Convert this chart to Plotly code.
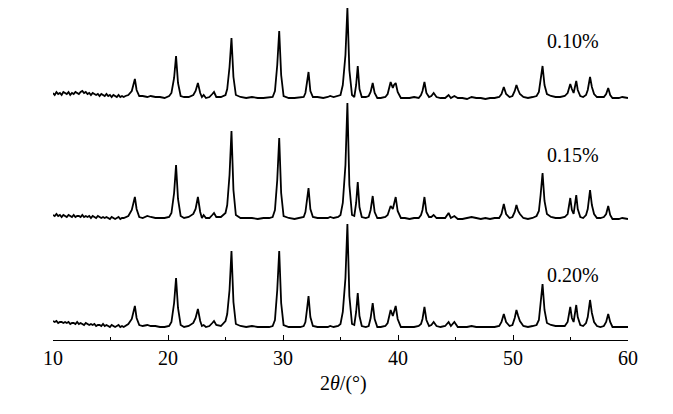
import plotly.graph_objects as go

# 2theta grid (degrees) shared by the three patterns
two_theta = [
    10.0, 10.15, 10.3, 10.45, 10.6, 10.75, 10.9, 11.05, 11.2, 11.35, 11.5, 11.65, 11.8, 11.95, 12.1,
    12.25, 12.4, 12.55, 12.7, 12.85, 13.0, 13.15, 13.3, 13.45, 13.6, 13.75, 13.9, 14.05, 14.2, 14.35,
    14.5, 14.65, 14.8, 14.95, 15.1, 15.25, 15.4, 15.55, 15.7, 15.85, 16.0, 16.15, 16.3,
    16.55, 16.85, 16.97, 17.12, 17.27, 17.5,
    17.8, 18.2, 18.5, 18.9, 19.3, 19.7, 20.1,
    20.3, 20.53, 20.7, 20.87, 21.1,
    21.4, 21.8, 22.2,
    22.4, 22.6, 22.8,
    22.95, 23.1, 23.3,
    23.6, 23.85, 24.0, 24.2,
    24.6, 25.0,
    25.15, 25.35, 25.52, 25.69, 25.9,
    26.3, 26.8, 27.3, 27.8, 28.3, 28.8, 29.1,
    29.3, 29.5, 29.67, 29.84, 30.05,
    30.5, 31.0, 31.5, 31.8,
    31.95, 32.08, 32.22, 32.38, 32.6,
    33.0, 33.5, 33.9, 34.1, 34.4, 34.8, 35.0,
    35.2, 35.43, 35.6, 35.77, 36.0,
    36.2, 36.36, 36.5, 36.65, 36.85,
    37.2, 37.45,
    37.62, 37.8, 37.97, 38.2,
    38.5, 38.9,
    39.1, 39.36, 39.55, 39.65, 39.8, 39.97, 40.25,
    40.6, 41.0, 41.4, 41.8, 42.0,
    42.13, 42.3, 42.47, 42.7,
    42.9, 43.1, 43.35,
    43.7, 44.1, 44.4, 44.6, 44.9, 45.2,
    45.6, 46.0, 46.4, 46.8, 47.2, 47.6, 48.0, 48.4, 48.8,
    49.0, 49.2, 49.4, 49.7,
    49.95, 50.15, 50.3, 50.45, 50.6, 50.9,
    51.3, 51.7, 52.05,
    52.25, 52.4, 52.57, 52.74, 52.95,
    53.3, 53.7, 54.1, 54.5,
    54.75, 54.98, 55.12, 55.27, 55.5, 55.63, 55.85,
    56.1, 56.35,
    56.5, 56.7, 56.86, 57.05, 57.3,
    57.6, 57.9,
    58.1, 58.28, 58.45, 58.65,
    58.9, 59.2, 59.5, 59.8, 60.0,
]

# intensities (a.u.)
i_010 = [
    12, 10, 13, 11, 12, 10, 13, 12, 11, 13, 10, 12, 11, 13, 12,
    11, 13, 14, 12, 13, 11, 12, 10, 12, 11, 10, 11, 9, 11, 10,
    9, 11, 9, 10, 8, 10, 9, 8, 10, 8, 9, 8, 9,
    10, 14, 20, 26, 15, 9,
    9, 8, 9, 8, 8, 7, 9,
    12, 27, 49, 22, 9,
    8, 8, 10,
    14, 22, 12,
    8, 10, 7,
    8, 11, 13, 8,
    8, 10,
    16, 38, 67, 28, 10,
    8, 7, 8, 7, 7, 8, 8,
    14, 40, 74, 30, 9,
    7, 7, 8, 8,
    12, 22, 33, 14, 8,
    8, 7, 8, 9, 8, 9, 10,
    20, 50, 97, 35, 10,
    8, 20, 39, 16, 8,
    8, 9,
    13, 22, 12, 7,
    7, 8,
    11, 23, 17, 20, 22, 13, 7,
    7, 7, 8, 7, 10,
    14, 23, 12, 8,
    9, 12, 8,
    7, 7, 10, 7, 9, 7,
    7, 6, 8, 7, 7, 6, 7, 7, 8,
    11, 18, 11, 8,
    9, 14, 20, 15, 11, 8,
    7, 8, 9,
    13, 25, 39, 20, 11,
    9, 8, 8, 9,
    12, 21, 16, 12, 24, 15, 9,
    8, 10,
    15, 28, 18, 11, 8,
    8, 8,
    11, 17, 10, 7,
    7, 7, 8, 7, 7,
]

i_015 = [
    10, 9, 11, 9, 10, 8, 10, 9, 8, 10, 9, 8, 10, 8, 9,
    9, 8, 10, 8, 9, 8, 9, 7, 9, 8, 7, 9, 8, 7, 8,
    7, 8, 7, 6, 8, 7, 6, 7, 8, 6, 7, 7, 8,
    9, 15, 22, 28, 16, 8,
    7, 9, 8, 7, 7, 7, 8,
    12, 32, 60, 26, 9,
    7, 8, 11,
    16, 28, 13,
    7, 10, 7,
    7, 10, 12, 8,
    8, 12,
    20, 50, 94, 35, 10,
    7, 7, 7, 6, 7, 7, 8,
    15, 45, 87, 32, 9,
    7, 6, 7, 8,
    13, 25, 37, 16, 8,
    7, 7, 7, 8, 7, 8, 10,
    22, 60, 122, 40, 10,
    9, 22, 43, 18, 8,
    7, 8,
    15, 29, 13, 7,
    7, 8,
    10, 19, 16, 22, 28, 14, 7,
    7, 6, 7, 7, 10,
    15, 28, 13, 8,
    8, 10, 7,
    7, 7, 12, 7, 9, 6,
    6, 7, 8, 7, 6, 7, 6, 7, 7,
    11, 21, 11, 7,
    8, 13, 20, 14, 11, 7,
    6, 7, 9,
    14, 30, 52, 24, 11,
    8, 7, 7, 8,
    11, 27, 15, 11, 30, 16, 8,
    7, 10,
    16, 35, 20, 11, 7,
    7, 8,
    11, 19, 10, 6,
    6, 6, 7, 6, 6,
]

i_020 = [
    9, 8, 9, 7, 8, 8, 7, 8, 7, 8, 6, 7, 7, 6, 8,
    6, 7, 6, 5, 7, 6, 5, 6, 5, 6, 4, 5, 5, 4, 6,
    4, 5, 4, 3, 5, 4, 3, 4, 5, 3, 4, 3, 4,
    6, 11, 17, 24, 12, 5,
    4, 5, 4, 4, 3, 3, 4,
    8, 27, 52, 22, 5,
    3, 4, 7,
    12, 21, 9,
    4, 5, 3,
    4, 7, 9, 5,
    4, 9,
    16, 40, 79, 28, 6,
    4, 3, 4, 3, 3, 3, 4,
    10, 40, 79, 27, 5,
    3, 3, 3, 4,
    8, 20, 34, 13, 4,
    3, 3, 3, 4, 3, 4, 6,
    18, 52, 106, 34, 6,
    5, 18, 37, 14, 4,
    3, 4,
    12, 27, 11, 3,
    3, 4,
    7, 20, 14, 19, 24, 11, 3,
    3, 3, 3, 4, 6,
    11, 23, 10, 4,
    5, 8, 4,
    3, 4, 8, 4, 8, 3,
    3, 3, 4, 3, 3, 3, 3, 3, 4,
    8, 16, 8, 4,
    5, 12, 20, 14, 9, 4,
    3, 4, 5,
    10, 25, 46, 20, 7,
    5, 4, 4, 4,
    8, 23, 12, 8, 25, 13, 5,
    4, 7,
    13, 30, 17, 8, 4,
    3, 4,
    8, 16, 8, 3,
    3, 3, 3, 3, 3,
]

series_names = ["0.10%", "0.15%", "0.20%"]
series_data = [i_010, i_015, i_020]
stack_offsets = [235, 115, 10]
label_pos_x = [55.25, 55.2, 55.2]
label_pos_y = [299, 185, 65]

x_ticks = [10, 20, 30, 40, 50, 60]
x_minor_ticks = [15, 25, 35, 45, 55]

SERIF = "Liberation Serif, Times New Roman, serif"

fig = go.Figure()
for name, ys, off in zip(series_names, series_data, stack_offsets):
    fig.add_trace(go.Scatter(
        x=two_theta,
        y=[v + off for v in ys],
        mode="lines",
        name=name,
        line=dict(color="black", width=1.8),
        hoverinfo="skip",
    ))

for name, lx, ly in zip(series_names, label_pos_x, label_pos_y):
    fig.add_annotation(x=lx, y=ly, xref="x", yref="y", text=name, showarrow=False,
                       font=dict(family=SERIF, size=20, color="black"),
                       xanchor="center", yanchor="middle")

fig.add_annotation(x=35.3, y=0, xref="x", yref="paper",
                   text="2<i>θ</i>/(°)", showarrow=False,
                   font=dict(family=SERIF, size=20, color="black"),
                   xanchor="center", yanchor="middle", yshift=-43)

fig.update_layout(
    width=673, height=414,
    margin=dict(l=45, r=53, t=0, b=82),
    paper_bgcolor="white", plot_bgcolor="white",
    showlegend=False,
    xaxis=dict(
        range=[10, 60], tickmode="array", tickvals=x_ticks,
        ticktext=[str(t) for t in x_ticks],
        showline=True, linecolor="black", linewidth=1,
        ticks="inside", ticklen=5, tickwidth=1, tickcolor="black",
        minor=dict(ticks="inside", ticklen=3, tickwidth=1, tickcolor="black",
                   tickvals=x_minor_ticks, showgrid=False),
        showgrid=False, zeroline=False,
        tickfont=dict(family=SERIF, size=20, color="black"),
    ),
    yaxis=dict(range=[0, 332], visible=False, showgrid=False, zeroline=False),
)

fig.write_html("out.html")
